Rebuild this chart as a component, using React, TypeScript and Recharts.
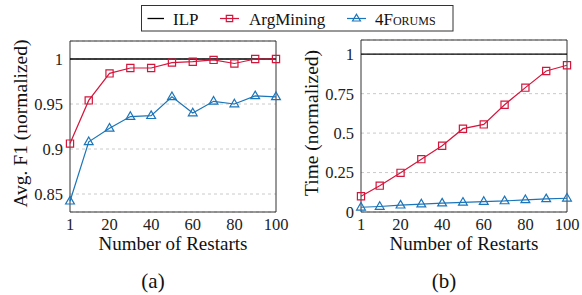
import React from 'react';
import { LineChart, Line, XAxis, YAxis, CartesianGrid, ReferenceArea, Label } from 'recharts';

const restarts = [1, 10, 20, 30, 40, 50, 60, 70, 80, 90, 100];
const xTicks = [1, 20, 40, 60, 80, 100];

const f1Ilp = [1, 1, 1, 1, 1, 1, 1, 1, 1, 1, 1];
const f1ArgMining = [0.906, 0.954, 0.984, 0.99, 0.99, 0.996, 0.997, 0.999, 0.995, 1.0, 1.0];
const f1Forums = [0.842, 0.908, 0.923, 0.936, 0.937, 0.958, 0.94, 0.953, 0.95, 0.959, 0.958];
const f1Ticks = [0.85, 0.9, 0.95, 1];

const timeIlp = [1, 1, 1, 1, 1, 1, 1, 1, 1, 1, 1];
const timeArgMining = [0.1, 0.167, 0.248, 0.335, 0.42, 0.528, 0.555, 0.68, 0.788, 0.894, 0.93];
const timeForums = [0.03, 0.035, 0.043, 0.05, 0.056, 0.061, 0.066, 0.07, 0.077, 0.083, 0.087];
const timeTicks = [0, 0.25, 0.5, 0.75, 1];

const RED = '#d4163c';
const BLUE = '#1b75b9';
const FONT = 'Liberation Serif, serif';

const f1Data = restarts.map((r, i) => ({ r, ilp: f1Ilp[i], arg: f1ArgMining[i], forums: f1Forums[i] }));
const timeData = restarts.map((r, i) => ({ r, ilp: timeIlp[i], arg: timeArgMining[i], forums: timeForums[i] }));

const squarePath = (cx: number, cy: number, h = 3.6) => `M${cx - h},${cy - h}H${cx + h}V${cy + h}H${cx - h}Z`;
const triPath = (cx: number, cy: number, s = 1) =>
  `M${cx},${cy - 4.8 * s}L${cx + 4.4 * s},${cy + 2.8 * s}L${cx - 4.4 * s},${cy + 2.8 * s}Z`;

const SquareDot = (props: any) => {
  const { cx, cy, index } = props;
  if (cx == null || cy == null) return <g key={`s${index}`} />;
  return <path key={`s${index}`} d={squarePath(cx, cy)} fill="none" stroke={RED} strokeWidth={1.2} />;
};
const TriDot = (props: any) => {
  const { cx, cy, index } = props;
  if (cx == null || cy == null) return <g key={`t${index}`} />;
  return <path key={`t${index}`} d={triPath(cx, cy)} fill="none" stroke={BLUE} strokeWidth={1.2} />;
};

const tickStyle = { fontFamily: FONT, fontSize: 16.5, fill: '#222' };

function Panel({ data, domain, ticks, yTitle, caption, width, top }: any) {
  return (
    <LineChart
      width={width}
      height={295}
      data={data}
      margin={{ top, right: 15, left: 20, bottom: 63 }}
      style={{ fontFamily: FONT }}
    >
      <CartesianGrid horizontal vertical={false} stroke="#bdbdbd" strokeDasharray="3 3" strokeWidth={0.8} />
      <XAxis
        dataKey="r"
        type="number"
        domain={[1, 100]}
        ticks={xTicks}
        tickSize={0}
        tickMargin={6}
        axisLine={false}
        tick={tickStyle}
        height={20}
        interval={0}
      >
        <Label
          content={(p: any) => {
            const vb = p.viewBox || {};
            const cx = vb.x + vb.width / 2;
            return (
              <g>
                <text x={cx} y={vb.y + 38} textAnchor="middle" style={{ fontFamily: FONT }} fontSize={19} fill="#111">
                  Number of Restarts
                </text>
                <text x={cx - 20} y={vb.y + 76} textAnchor="middle" style={{ fontFamily: FONT }} fontSize={21} fill="#111">
                  {caption}
                </text>
              </g>
            );
          }}
        />
      </XAxis>
      <YAxis
        type="number"
        domain={domain}
        ticks={ticks}
        tickSize={0}
        tickMargin={7}
        axisLine={false}
        tick={tickStyle}
        width={50}
        interval={0}
        allowDataOverflow
      >
        <Label
          content={(p: any) => {
            const vb = p.viewBox || {};
            const cy = vb.y + vb.height / 2 - 3;
            const x = 20;
            return (
              <text
                x={x}
                y={cy}
                transform={`rotate(-90 ${x} ${cy})`}
                textAnchor="middle"
                dominantBaseline="central"
                style={{ fontFamily: FONT }}
                fontSize={19.5}
                fill="#111"
              >
                {yTitle}
              </text>
            );
          }}
        />
      </YAxis>
      <ReferenceArea x1={1} x2={100} y1={domain[0]} y2={domain[1]} fill="none" stroke="#333" strokeWidth={1} ifOverflow="visible" />
      <Line dataKey="ilp" stroke="#000" strokeWidth={1.3} dot={false} isAnimationActive={false} />
      <Line dataKey="forums" stroke={BLUE} strokeWidth={1.2} dot={TriDot} isAnimationActive={false} />
      <Line dataKey="arg" stroke={RED} strokeWidth={1.2} dot={SquareDot} isAnimationActive={false} />
    </LineChart>
  );
}

function Legend() {
  const ts = { fontFamily: FONT };
  return (
    <svg width={582} height={36} style={{ position: 'absolute', left: 0, top: 0 }}>
      <rect x={141.5} y={5.5} width={311.5} height={25.5} fill="#fff" stroke="#333" strokeWidth={1} />
      <line x1={147.5} x2={164} y1={18.5} y2={18.5} stroke="#000" strokeWidth={1.3} />
      <text x={173} y={24.5} style={ts} fontSize={17} fill="#111">ILP</text>
      <line x1={220} x2={239} y1={18.5} y2={18.5} stroke={RED} strokeWidth={1.2} />
      <path d={squarePath(229.5, 18.5, 3.2)} fill="none" stroke={RED} strokeWidth={1.2} />
      <text x={249} y={24.5} style={ts} fontSize={17} fill="#111">ArgMining</text>
      <line x1={347} x2={366} y1={18.5} y2={18.5} stroke={BLUE} strokeWidth={1.2} />
      <path d={triPath(356.5, 18.5, 0.9)} fill="none" stroke={BLUE} strokeWidth={1.2} />
      <text x={375} y={24.5} style={{ ...ts, fontVariant: 'small-caps' }} fontSize={17} fill="#111">
        4Forums
      </text>
    </svg>
  );
}

export default function App() {
  return (
    <div style={{ position: 'absolute', left: 0, top: 0, width: 582, height: 295, background: '#fff', overflow: 'hidden', fontFamily: FONT }}>
      <div style={{ position: 'absolute', left: 0, top: 0 }}>
        <Panel data={f1Data} domain={[0.83, 1.02]} ticks={f1Ticks} yTitle="Avg. F1 (normalized)" caption="(a)" width={291} top={41} />
      </div>
      <div style={{ position: 'absolute', left: 291, top: 0 }}>
        <Panel data={timeData} domain={[0, 1.09]} ticks={timeTicks} yTitle="Time (normalized)" caption="(b)" width={291} top={40} />
      </div>
      <Legend />
    </div>
  );
}
